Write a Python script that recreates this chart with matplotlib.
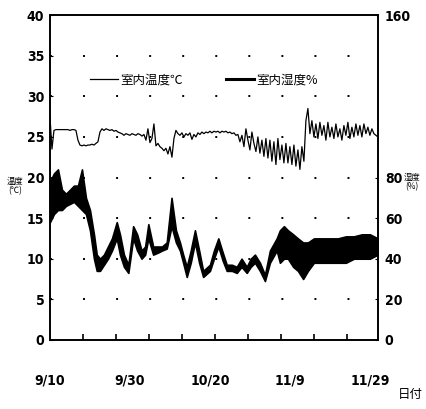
import numpy as np
import matplotlib
matplotlib.use('Agg')
import matplotlib.pyplot as plt
from matplotlib.lines import Line2D

# Days counted from 9/10
date_labels = ['9/10', '9/30', '10/20', '11/9', '11/29']
date_days = [0, 20, 40, 60, 80]

# Indoor temperature (deg C), every half day
temp_vals = [
    27.5, 23.5, 25.8, 25.9, 25.9, 25.9, 25.9, 25.9, 25.9, 25.9, 25.8, 25.9, 25.9, 25.8,
    24.6, 24.0, 23.9, 24.0, 23.9, 24.0, 24.0, 24.1, 24.0, 24.2, 24.4,
    25.6, 26.0, 25.8, 26.0, 25.9, 25.8, 25.9, 25.7, 25.8, 25.6, 25.5,
    25.4, 25.2, 25.4, 25.3, 25.2, 25.4, 25.3, 25.2, 25.4, 25.3, 25.1, 25.3, 24.6,
    26.0, 24.3, 24.8, 26.6, 23.9, 24.2, 23.8, 23.6, 23.3, 23.6, 22.9, 23.8, 22.5,
    24.8, 25.8, 25.4, 25.2, 25.5, 25.0, 25.4, 25.2, 25.5, 24.7, 25.3, 25.0, 25.5, 25.3,
    25.6, 25.4, 25.6, 25.5, 25.7, 25.5, 25.7, 25.6, 25.7, 25.5, 25.7, 25.6, 25.7, 25.5,
    25.6, 25.4, 25.5, 25.2, 25.3, 24.4,
    25.2, 23.8, 26.0, 24.6, 23.4, 25.6, 24.2, 23.2, 25.0, 23.0, 24.6, 22.6, 24.8, 22.4,
    24.6, 22.0, 24.4, 21.6, 24.8, 22.2, 24.0, 21.8, 24.2, 21.8, 23.8, 21.6, 24.0, 21.4,
    23.4, 21.0, 23.8, 22.0,
    27.0, 28.5, 25.4, 27.0, 25.0, 26.6, 24.8, 26.8, 25.2, 26.4, 24.6, 26.8, 25.0, 26.2,
    24.8, 26.6, 25.0, 26.0, 24.6, 26.4, 25.2, 26.8, 24.8, 26.2, 25.0, 26.6, 25.2, 26.4,
    25.0, 26.6, 25.4, 26.2, 25.2, 26.0, 25.4, 25.2, 25.0,
]
temp_days = np.arange(len(temp_vals)) * 0.5

# Indoor humidity (%), low / high of the daily band
hum_days = [0, 1, 2, 3, 4, 5, 6, 7, 8, 9, 10, 11, 11.7, 12.5, 13.5, 14.5, 15.5, 16.7,
            17.5, 18.5, 19.6, 20.8, 21.8, 22.9, 23.8, 24.6, 25.8, 27, 28, 29.2, 30.4,
            31.5, 32.5, 33.3, 34.2, 35.2, 36.25, 37.3, 38.3, 40, 41, 42.1, 43.2, 44.2,
            45.5, 46.7, 47.9, 49.2, 50.2, 51.25, 52.5, 53.75, 55, 56.7, 57.5, 58.5,
            59.5, 60.8, 62, 63.3, 64.5, 66, 68, 70, 72, 74, 76, 78, 80, 82]
hum_lo = [58, 62, 64, 64, 66, 67, 68, 66, 64, 62, 54, 40, 34, 34, 37, 40, 44, 50,
          42, 36, 33, 50, 44, 40, 42, 50, 42, 43, 44, 45, 56,
          48, 44, 38, 31, 38, 48, 38, 31, 34, 40, 46, 39, 34,
          34, 33, 36, 33, 36, 38, 34, 29, 38, 44, 38, 40,
          40, 36, 34, 30, 34, 38, 38, 38, 38, 38, 40, 40, 40, 42]
hum_hi = [78, 82, 84, 74, 72, 74, 76, 76, 84, 70, 64, 52, 42, 40, 42, 46, 50, 58,
          52, 42, 37, 56, 52, 44, 46, 57, 46, 46, 46, 48, 70,
          54, 48, 42, 36, 44, 54, 44, 34, 37, 44, 50, 43, 37,
          37, 36, 40, 36, 40, 42, 38, 32, 44, 50, 54, 56,
          54, 52, 50, 48, 48, 50, 50, 50, 50, 51, 51, 52, 52, 50]

temp_ticks = [0, 5, 10, 15, 20, 25, 30, 35, 40]
hum_ticks = [0, 20, 40, 60, 80, 160]

cjk = ['Noto Sans CJK JP', 'DejaVu Sans']
num_font = dict(family='DejaVu Sans', stretch='condensed', weight='bold', size=10)

fig = plt.figure(figsize=(4.27, 4.09), dpi=100)
ax = fig.add_axes([0.117, 0.169, 0.768, 0.794])
ax2 = ax.twinx()

ax.plot(temp_days, temp_vals, color='black', lw=0.9)
ax2.fill_between(hum_days, hum_lo, hum_hi, color='black', lw=1.2, edgecolor='black')

ax.set_xlim(0, 82)
ax.set_ylim(0, 40)
ax2.set_ylim(0, 160)

# sparse dotted horizontal grid
for t in temp_ticks[1:-1]:
    ax.axhline(t, color='black', lw=1.4, dashes=(1, 16), zorder=0)

ax.set_yticks(temp_ticks)
ax.set_yticklabels([str(t) for t in temp_ticks], fontdict=num_font)
ax2.set_yticks(hum_ticks)
ax2.set_yticklabels([str(t) for t in hum_ticks], fontdict=num_font)
ax.set_xticks(date_days)
ax.set_xticklabels(date_labels, fontdict=num_font)
ax.set_xticks(np.arange(0, 82, 8.25), minor=True)

ax.tick_params(axis='x', which='major', length=0, pad=24)
ax.tick_params(axis='x', which='minor', direction='in', length=4, width=1.2)
ax.tick_params(axis='y', direction='in', length=2, pad=4)
ax2.tick_params(axis='y', direction='in', length=2, pad=5)

for a in (ax, ax2):
    for s in a.spines.values():
        s.set_linewidth(1.2)

handles = [Line2D([], [], color='black', lw=0.9),
           Line2D([], [], color='black', lw=2.2)]
ax.legend(handles, ['室内温度℃', '室内湿度%'], ncol=2, frameon=False,
          loc='center', bbox_to_anchor=(0.47, 0.8), handlelength=2.2,
          handletextpad=0.2, columnspacing=3.5, prop={'family': cjk, 'size': 9})

fig.text(0.035, 0.545, '温度\n(℃)', fontsize=6, family=cjk, ha='center', va='center',
         linespacing=1.0)
fig.text(0.965, 0.555, '湿度\n(%)', fontsize=6, family=cjk, ha='center', va='center',
         linespacing=1.0)
fig.text(0.962, 0.035, '日付', fontsize=9, family=cjk, ha='center', va='center')

fig.savefig('out.png', dpi=100)
